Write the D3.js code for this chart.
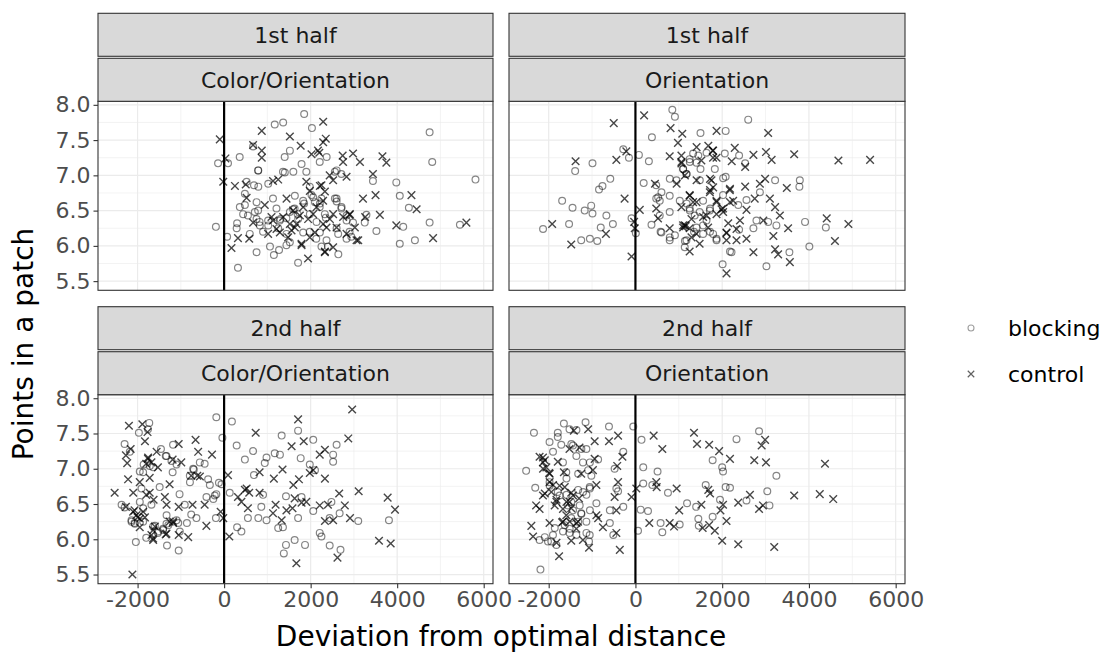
<!DOCTYPE html>
<html><head><meta charset="utf-8">
<script src="https://cdn.jsdelivr.net/npm/d3@7"></script>
<style>body{margin:0;background:#fff}svg{display:block}text{font-family:"DejaVu Sans",sans-serif}</style>
</head><body><svg id="c" width="1108" height="654"></svg>
<script>
// ---- data ----
const halves = ["1st half", "2nd half"];
const conditions = ["Color/Orientation", "Orientation"];
const groups = ["blocking", "control"];
const xTicks = [-2000, 0, 2000, 4000, 6000];
const yTicks = [5.5, 6.0, 6.5, 7.0, 7.5, 8.0];
const xTitle = "Deviation from optimal distance";
const yTitle = "Points in a patch";

const firstColorBlocking = [[1850,7.87],[2030,7.67],[1170,7.72],[1365,7.75],[4750,7.61],[4810,7.19],[5810,6.94],[-140,7.17],[90,7.17],[360,7.26],[670,7.41],[790,7.07],[1520,7.35],[1400,7.26],[1790,7.16],[2210,7.19],[2370,7.26],[1900,7.05],[1360,7.05],[1600,7.05],[2560,7.05],[3440,6.92],[3980,6.9],[4060,6.71],[4270,6.54],[4750,6.33],[5450,6.3],[4140,6.27],[3520,6.21],[3250,6.33],[3290,6.44],[4060,6.03],[4410,6.08],[-190,6.27],[300,6.32],[290,6.25],[70,6.13],[320,5.69],[750,5.91],[1060,5.99],[1150,5.87],[1270,5.94],[1710,5.76],[2250,5.99],[2400,5.99],[2640,5.88],[550,6.43],[710,6.48],[750,6.62],[480,6.58],[690,6.86],[790,6.84],[480,6.74],[520,6.91],[1020,6.88],[1520,6.48],[1440,6.39],[1630,6.53],[1980,6.84],[2020,6.72],[2100,6.62],[2250,6.67],[2210,6.55],[2560,6.67],[2600,6.63],[2710,6.53],[2830,6.43],[2980,6.33],[2900,6.2],[2830,6.1],[2940,6.13],[1980,6.2],[2130,6.1],[2600,6.25],[1250,6.25],[1020,6.29],[820,6.34],[900,6.2],[1440,6.01],[2710,7.02],[2600,7.07],[1130,6.67],[1210,6.53],[1700,6.45],[1850,6.6],[2350,6.4],[1300,6.38],[1635,6.71],[1827,6.64],[2058,6.69],[2213,6.6],[1595,6.52],[1711,6.38],[1981,6.45],[2136,6.34],[2328,6.45],[2599,6.67],[2714,6.55],[2830,6.36],[2636,6.17],[2367,6.08],[1443,6.17],[1288,6.36],[786,6.5],[749,6.38],[825,6.29],[439,6.45],[363,6.55],[594,6.17],[1017,6.36],[1827,6.19],[1519,6.05],[2213,6.19],[786,7.07],[1403,7.04]];
const firstColorControl = [[-100,7.51],[870,7.63],[1520,7.55],[2290,7.76],[2290,7.47],[670,7.43],[870,7.35],[870,7.25],[30,7.24],[2200,7.32],[1770,7.42],[2350,7.52],[2170,7.35],[2020,7.3],[2740,7.28],[2980,7.31],[3140,7.19],[3660,7.27],[3750,7.18],[3440,7.02],[2750,7.19],[-20,6.91],[250,6.85],[500,6.87],[520,6.68],[1130,6.92],[1250,6.94],[1900,6.91],[2250,6.86],[2330,6.77],[2440,7.0],[2520,6.93],[2830,6.98],[3210,6.67],[3500,6.72],[4330,6.72],[4450,6.52],[3600,6.44],[3260,6.41],[2900,6.44],[3980,6.29],[4830,6.11],[5600,6.33],[3100,6.08],[2330,5.92],[1940,5.82],[1790,6.01],[940,6.58],[670,6.33],[320,6.11],[170,5.97],[580,6.1],[1443,6.67],[1595,6.5],[1981,6.78],[2213,6.85],[2289,6.64],[2136,6.55],[1942,6.38],[1750,6.43],[1519,6.31],[1211,6.24],[1096,6.41],[1017,6.17],[1288,6.19],[1480,6.12],[1635,6.26],[1789,6.03],[1981,6.12],[2097,6.19],[2289,6.31],[2444,6.38],[2599,6.26],[2751,6.41],[2906,6.45],[3022,6.26],[2830,6.17],[3061,6.08],[2520,5.98],[2328,5.91],[1364,6.41],[1674,6.31],[1827,6.55],[2058,6.45],[2367,6.26],[2520,6.45],[1133,6.36],[1558,6.22]];
const firstOriBlocking = [[850,7.93],[910,7.83],[2600,7.79],[380,7.54],[1500,7.6],[2080,7.63],[-280,7.37],[-150,7.25],[80,7.29],[310,7.2],[-990,7.17],[-1390,7.06],[-580,6.95],[-760,6.85],[-840,6.8],[-1690,6.64],[-1450,6.54],[-1170,6.5],[-1020,6.57],[-990,6.46],[-670,6.43],[-1530,6.31],[-2130,6.24],[-800,6.26],[-520,6.31],[-1250,6.08],[-1050,6.1],[-880,6.07],[-90,6.39],[10,6.18],[190,6.89],[1250,7.23],[1330,7.31],[1100,7.09],[1180,7.02],[1500,7.09],[1830,7.09],[2080,6.98],[1450,7.28],[2060,7.31],[2390,7.28],[2530,7.17],[3220,6.93],[3790,6.93],[3780,6.84],[370,6.3],[790,6.71],[600,6.76],[480,6.67],[560,6.43],[580,6.2],[790,6.08],[910,6.15],[1140,6.07],[1350,6.2],[1560,6.29],[1870,6.1],[1720,6.2],[2180,5.92],[2010,5.74],[3020,5.71],[3550,5.91],[4010,5.99],[3910,6.34],[4390,6.26],[2390,6.23],[2720,6.25],[2790,6.36],[1480,6.48],[1720,6.53],[1250,6.53],[790,6.48],[3250,6.29],[3060,6.34],[2870,6.76],[480,6.86],[1180,6.6],[2020,6.72],[2370,6.58],[2560,6.65],[1099,7.09],[1176,7.02],[946,6.93],[792,6.95],[1022,6.64],[1253,6.5],[1368,6.43],[1560,6.64],[1715,6.5],[1408,6.26],[1560,6.17],[1791,6.17],[1176,6.08],[1137,5.98],[1639,6.36],[792,6.12],[600,6.19],[561,6.64],[523,6.69],[1869,6.08],[2216,5.91],[2022,6.96],[1484,6.93],[1408,7.18],[1253,7.19],[1639,7.32]];
const firstOriControl = [[-500,7.74],[200,7.85],[810,7.67],[1080,7.59],[1870,7.63],[3060,7.6],[980,7.46],[1410,7.4],[1680,7.42],[1780,7.35],[2290,7.39],[2720,7.29],[3010,7.33],[3140,7.22],[3660,7.3],[4680,7.21],[5410,7.22],[-1380,7.2],[-440,7.22],[-210,7.34],[790,7.27],[1060,7.28],[1060,7.17],[1520,7.21],[1790,7.25],[2220,7.2],[2530,7.12],[450,6.88],[950,6.88],[1140,7.0],[1410,6.93],[1720,6.95],[2180,6.81],[2530,6.84],[2870,6.88],[2990,6.95],[3490,6.82],[-250,6.67],[100,6.51],[480,6.53],[1060,6.55],[1250,6.72],[1330,6.62],[1720,6.79],[1870,6.62],[2020,6.53],[2180,6.62],[2560,6.51],[2750,6.67],[3100,6.67],[3220,6.55],[3330,6.43],[2950,6.36],[2410,6.36],[2140,6.32],[1640,6.43],[1100,6.29],[1250,6.25],[790,6.25],[520,6.39],[-15,6.25],[-30,6.34],[-680,6.17],[-1480,6.02],[-1920,6.31],[-90,5.85],[1250,5.92],[1480,6.03],[2100,6.18],[2330,6.08],[2560,6.1],[3180,6.14],[3220,5.95],[3290,5.88],[2720,5.91],[3560,5.77],[2100,5.61],[3520,6.25],[4410,6.39],[4910,6.31],[4600,6.07],[1160,6.28],[1138,6.29],[1099,6.26],[1292,6.38],[1253,6.71],[1408,6.62],[1715,6.76],[1869,6.64],[1985,6.52],[2022,6.48],[1869,6.45],[1792,6.83],[1753,6.93],[2176,6.79],[2253,6.64],[1560,6.41],[1676,6.26],[1408,6.17],[1292,6.12],[2099,6.19],[2330,6.24],[2099,6.08],[1060,7.19],[1792,7.35],[1869,7.25]];
const secondColorBlocking = [[-180,7.73],[180,7.67],[-40,7.44],[-1730,7.65],[-1760,7.56],[-1970,7.51],[-2300,7.35],[-2180,7.24],[-1460,7.28],[-1350,7.18],[-1180,7.34],[-1190,6.95],[-1490,6.74],[-1910,6.72],[-1860,7.06],[-1950,6.96],[-1640,7.02],[-2370,6.49],[-2300,6.45],[-2140,6.25],[-2070,6.23],[-1870,6.44],[-1680,6.49],[-2040,5.96],[-1800,6.02],[-1600,6.19],[-1330,6.34],[-1290,6.2],[-1530,6.09],[-1410,6.13],[-1060,6.23],[-860,6.23],[-760,6.35],[-640,6.3],[-1320,5.91],[-1050,5.84],[-1030,6.64],[-910,6.49],[-790,6.81],[-700,6.99],[-450,7.07],[-370,6.85],[-330,6.77],[-250,6.57],[-180,6.64],[-120,6.8],[-190,6.3],[-60,6.78],[130,6.66],[290,7.33],[300,6.17],[400,6.11],[480,7.13],[550,6.3],[670,7.25],[690,6.91],[790,6.3],[900,6.63],[860,6.46],[980,6.27],[980,7.16],[940,7.08],[1170,7.22],[1290,7.2],[1330,7.47],[1430,6.61],[1250,6.16],[1360,6.17],[1430,5.92],[1380,5.8],[1710,7.54],[1770,7.15],[1630,5.99],[1870,5.92],[1710,6.3],[1790,6.6],[2060,7.41],[1980,7.06],[2100,6.98],[2060,6.4],[2210,6.09],[2250,6.04],[2440,5.91],[2690,5.85],[2600,7.34],[2520,7.2],[2520,7.1],[2440,6.3],[2670,6.37],[3100,6.26],[3810,6.27],[2480,6.53],[-1949,6.53],[-2141,6.27],[-2064,6.22],[-1872,6.25],[-1641,6.18],[-1526,6.11],[-1410,6.15],[-1332,6.22],[-1100,6.27],[-1024,6.11],[-1718,7.04],[-1872,6.95],[-1332,7.18],[-1217,7.11],[-1100,7.06],[-793,6.9],[-562,7.09],[-716,7.0],[-408,6.6],[-216,6.62]];
const secondColorControl = [[-2200,7.61],[-1890,7.63],[-1770,7.52],[-1830,7.39],[-2160,7.28],[-2270,7.19],[-2240,7.08],[-2220,6.85],[-2530,6.66],[-2100,6.66],[-1950,6.81],[-1760,7.14],[-1800,7.07],[-1560,7.24],[-1530,7.02],[-1720,6.87],[-1720,6.66],[-1800,6.63],[-1630,6.56],[-1370,6.6],[-1260,6.78],[-1190,7.13],[-1050,7.35],[-990,7.09],[-660,7.41],[-600,7.24],[-280,7.2],[-620,6.9],[-760,6.9],[-560,6.89],[-730,6.49],[-450,6.49],[-410,6.19],[-830,6.03],[-1050,6.06],[-1260,6.25],[-1180,6.23],[-1350,6.07],[-1050,6.46],[-1330,6.49],[-1600,6.18],[-1680,6.06],[-1640,5.99],[-1830,6.31],[-1950,6.17],[-2000,6.31],[-2070,6.41],[-2270,6.46],[-2120,5.5],[-80,6.39],[-20,6.3],[90,6.91],[120,6.04],[520,6.72],[320,6.6],[400,6.53],[550,6.44],[480,6.7],[580,6.66],[730,7.51],[820,6.95],[820,6.66],[1350,6.99],[1150,6.86],[1190,6.49],[1130,6.37],[1330,6.27],[1440,6.41],[1580,6.44],[1560,7.32],[1710,7.7],[1840,7.39],[1600,6.77],[1730,6.85],[1630,6.58],[1790,6.52],[1900,6.53],[1980,6.94],[2060,6.98],[2210,7.2],[2330,7.27],[2330,6.86],[2210,6.48],[2400,6.49],[2330,6.26],[2520,6.27],[2660,6.65],[2790,6.48],[2910,6.3],[2870,7.43],[2960,7.84],[3110,6.68],[1670,5.66],[2620,5.74],[3580,5.98],[3850,5.94],[3780,6.59],[3950,6.42],[-1757,7.16],[-1680,7.09],[-1949,6.29],[-2026,6.34],[-2103,6.39],[-1872,6.39],[-1641,6.13],[-1641,6.01],[-1332,6.08],[-1178,6.25]];
const secondOriBlocking = [[-2340,7.51],[-2190,5.57],[-2520,6.97],[-2310,6.73],[-1650,7.64],[-1150,7.66],[-1360,7.55],[-610,7.6],[-50,7.6],[-1790,7.51],[-1980,7.38],[-1710,7.34],[-1440,7.33],[-1900,7.24],[-1050,7.09],[-860,7.13],[-280,7.24],[-480,7.0],[140,7.41],[180,7.02],[510,6.96],[180,6.79],[390,6.77],[750,6.66],[120,6.42],[290,6.4],[620,6.1],[580,6.23],[1020,6.21],[60,6.12],[-400,6.68],[-280,6.46],[-590,6.41],[-510,6.06],[1620,6.77],[1400,6.46],[1190,6.51],[1450,6.29],[1780,6.32],[1950,6.56],[2020,6.96],[2000,7.02],[2080,6.74],[2180,6.73],[1780,7.12],[2330,7.42],[2850,7.53],[3250,6.9],[3040,6.68],[3090,6.48],[2560,6.55],[1460,6.19],[-1520,7.56],[-1790,7.45],[-1210,7.09],[-1090,6.98],[-1320,6.93],[-1590,6.86],[-1980,6.81],[-1790,6.67],[-1590,6.63],[-1320,6.7],[-1050,6.72],[-1130,6.63],[-900,6.51],[-1050,6.41],[-1250,6.37],[-1480,6.3],[-1630,6.2],[-1860,6.16],[-2090,6.03],[-2210,5.99],[-1940,5.97],[-1520,6.09],[-1320,6.25],[-1130,6.09],[-1070,5.97],[-590,6.23],[-440,6.72],[-1480,6.53],[-1978,6.76],[-1748,6.62],[-1555,6.48],[-1439,6.41],[-1285,6.48],[-1246,6.36],[-1131,6.25],[-1516,6.15],[-1671,6.11],[-1901,6.06],[-2017,5.97],[-1823,5.92],[-1362,6.06],[-1054,6.06],[-1208,6.67],[-1054,6.74],[-1016,6.9],[-1594,6.95],[-1671,7.09],[-1362,7.18],[-1246,7.28],[-1478,7.35],[-1131,7.28]];
const secondOriControl = [[-1420,7.54],[-1090,7.56],[-400,7.47],[420,7.47],[1350,7.51],[1420,7.35],[1700,7.34],[1930,7.25],[2180,7.14],[620,7.28],[2740,7.12],[3010,7.09],[2910,7.33],[2990,7.41],[4370,7.07],[-940,7.39],[-610,7.39],[-1520,7.28],[-1290,7.3],[-2210,7.17],[-2090,7.12],[-1790,7.1],[-2130,7.0],[-1990,6.94],[-1650,6.95],[-940,7.14],[-980,6.98],[-1250,6.93],[-300,7.17],[-420,7.04],[-400,6.81],[-900,6.77],[-1900,6.77],[-2090,6.65],[-1630,6.74],[-1480,6.66],[-1820,6.56],[-1590,6.53],[-2290,6.48],[-2210,6.43],[-1300,6.58],[-1480,6.44],[-900,6.34],[-860,6.3],[-480,6.6],[-440,6.41],[-90,6.6],[20,6.72],[480,6.81],[490,6.74],[950,6.72],[1010,6.41],[320,6.23],[790,6.23],[890,6.18],[1520,6.49],[1720,6.65],[1680,6.7],[1960,6.41],[2020,6.49],[2100,6.26],[1550,6.16],[1700,6.2],[1830,6.12],[2370,6.52],[2640,6.63],[2850,6.43],[2940,6.48],[3660,6.62],[4250,6.64],[4560,6.57],[2000,5.98],[2370,5.93],[3200,5.89],[-360,5.85],[-1070,5.88],[-1210,5.99],[-1480,5.98],[-1760,5.76],[-1820,5.95],[-2360,6.04],[-2400,6.19],[-750,6.17],[-440,6.09],[-1690,6.24],[-1360,6.23],[-1980,6.23],[-2132,7.16],[-2054,7.02],[-1977,6.93],[-2132,7.09],[-1978,6.81],[-1823,6.53],[-1862,6.48],[-1671,6.43],[-1516,6.53],[-1594,6.34],[-1671,6.25],[-1516,6.25],[-1362,6.15],[-1323,6.25],[-1439,6.62],[-1939,6.67],[-2132,6.62],[-1748,6.76]];

const panelData = [
  {half: 0, cond: 0, blocking: firstColorBlocking, control: firstColorControl},
  {half: 0, cond: 1, blocking: firstOriBlocking, control: firstOriControl},
  {half: 1, cond: 0, blocking: secondColorBlocking, control: secondColorControl},
  {half: 1, cond: 1, blocking: secondOriBlocking, control: secondOriControl}
];

// ---- layout ----
const svg = d3.select("#c");
const colX = [[98, 493], [509, 905]];
const rowTop = [13.3, 306.7];   // top of first strip
const stripH = 43, stripGap = 2;
const panelH = 189;
const FS = 22;

const x = d3.scaleLinear().domain([-2915, 6215]);
const y = d3.scaleLinear().domain([5.37, 8.05]);

const crossPath = "M-3.8,-3.8L3.8,3.8M-3.8,3.8L3.8,-3.8";
const circleStyle = s => s.attr("fill", "none").attr("stroke", "#000").attr("stroke-opacity", 0.48).attr("stroke-width", 1.2);
const crossStyle = s => s.attr("fill", "none").attr("stroke", "#000").attr("stroke-opacity", 0.72).attr("stroke-width", 1.4);

panelData.forEach(p => {
  const [x0, x1] = colX[p.cond];
  const s1 = rowTop[p.half];
  const s2 = s1 + stripH + stripGap;
  const py0 = s2 + stripH;
  const py1 = py0 + panelH;
  const xs = x.copy().range([x0, x1]);
  const ys = y.copy().range([py1, py0]);
  const g = svg.append("g");

  g.append("rect").attr("x", x0).attr("y", py0).attr("width", x1 - x0).attr("height", py1 - py0).attr("fill", "#fff");
  const xMinor = [-1000, 1000, 3000, 5000];
  const yMinor = [5.75, 6.25, 6.75, 7.25, 7.75];
  g.selectAll(".vxm").data(xMinor).join("line")
    .attr("x1", d => xs(d)).attr("x2", d => xs(d)).attr("y1", py0).attr("y2", py1)
    .attr("stroke", "#ebebeb").attr("stroke-width", 0.6);
  g.selectAll(".hym").data(yMinor).join("line")
    .attr("x1", x0).attr("x2", x1).attr("y1", d => ys(d)).attr("y2", d => ys(d))
    .attr("stroke", "#ebebeb").attr("stroke-width", 0.6);
  g.selectAll(".vx").data(xTicks).join("line")
    .attr("x1", d => xs(d)).attr("x2", d => xs(d)).attr("y1", py0).attr("y2", py1)
    .attr("stroke", "#ebebeb").attr("stroke-width", 1.2);
  g.selectAll(".hy").data(yTicks).join("line")
    .attr("x1", x0).attr("x2", x1).attr("y1", d => ys(d)).attr("y2", d => ys(d))
    .attr("stroke", "#ebebeb").attr("stroke-width", 1.2);

  g.append("line").attr("x1", xs(0)).attr("x2", xs(0)).attr("y1", py0).attr("y2", py1)
    .attr("stroke", "#000").attr("stroke-width", 2.2);

  g.selectAll(".b").data(p.blocking).join("circle")
    .attr("cx", d => xs(d[0])).attr("cy", d => ys(d[1])).attr("r", 3.4).call(circleStyle);
  g.selectAll(".c").data(p.control).join("path")
    .attr("transform", d => `translate(${xs(d[0])},${ys(d[1])})`).attr("d", crossPath).call(crossStyle);

  g.append("rect").attr("x", x0).attr("y", py0).attr("width", x1 - x0).attr("height", py1 - py0)
    .attr("fill", "none").attr("stroke", "#333").attr("stroke-width", 1.1);

  [[s1, halves[p.half]], [s2, conditions[p.cond]]].forEach(([sy, label]) => {
    g.append("rect").attr("x", x0).attr("y", sy).attr("width", x1 - x0).attr("height", stripH)
      .attr("fill", "#d9d9d9").attr("stroke", "#333").attr("stroke-width", 1.1);
    g.append("text").attr("x", (x0 + x1) / 2).attr("y", sy + stripH / 2).attr("dy", "0.36em")
      .attr("text-anchor", "middle").attr("font-size", FS).attr("fill", "#1a1a1a").text(label);
  });

  if (p.cond === 0) {
    const ax = g.append("g").attr("transform", `translate(${x0},0)`)
      .call(d3.axisLeft(ys).tickValues(yTicks).tickFormat(d3.format(".1f")).tickSize(4.5).tickPadding(3));
    ax.select(".domain").remove();
    ax.selectAll(".tick line").attr("stroke", "#333").attr("stroke-width", 1.1);
    ax.selectAll(".tick text").attr("font-size", FS).attr("fill", "#4d4d4d").attr("font-family", "DejaVu Sans");
  }
  if (p.half === 1) {
    const ax = g.append("g").attr("transform", `translate(0,${py1})`)
      .call(d3.axisBottom(xs).tickValues(xTicks).tickFormat(d => String(d).replace("\u2212", "-")).tickSize(4.5).tickPadding(3));
    ax.select(".domain").remove();
    ax.selectAll(".tick line").attr("stroke", "#333").attr("stroke-width", 1.1);
    ax.selectAll(".tick text").attr("font-size", FS).attr("fill", "#4d4d4d").attr("font-family", "DejaVu Sans");
  }
});

svg.append("text").attr("x", 501).attr("y", 646).attr("text-anchor", "middle")
  .attr("font-size", 28).attr("fill", "#000").text(xTitle);
svg.append("text").attr("transform", "translate(33,344) rotate(-90)").attr("text-anchor", "middle")
  .attr("font-size", 28).attr("fill", "#000").text(yTitle);

const leg = svg.append("g");
groups.forEach((gname, i) => {
  const cy = 328 + i * 46;
  if (gname === "blocking") {
    leg.append("circle").attr("cx", 971).attr("cy", cy).attr("r", 3).attr("fill", "none")
      .attr("stroke", "#000").attr("stroke-opacity", 0.38).attr("stroke-width", 1.1);
  } else {
    leg.append("path").attr("transform", `translate(971,${cy}) scale(0.85)`).attr("d", crossPath).attr("fill", "none")
      .attr("stroke", "#000").attr("stroke-opacity", 0.62).attr("stroke-width", 1.4);
  }
  leg.append("text").attr("x", 1008).attr("y", cy).attr("dy", "0.36em")
    .attr("font-size", FS).attr("fill", "#000").text(gname);
});
</script></body></html>
